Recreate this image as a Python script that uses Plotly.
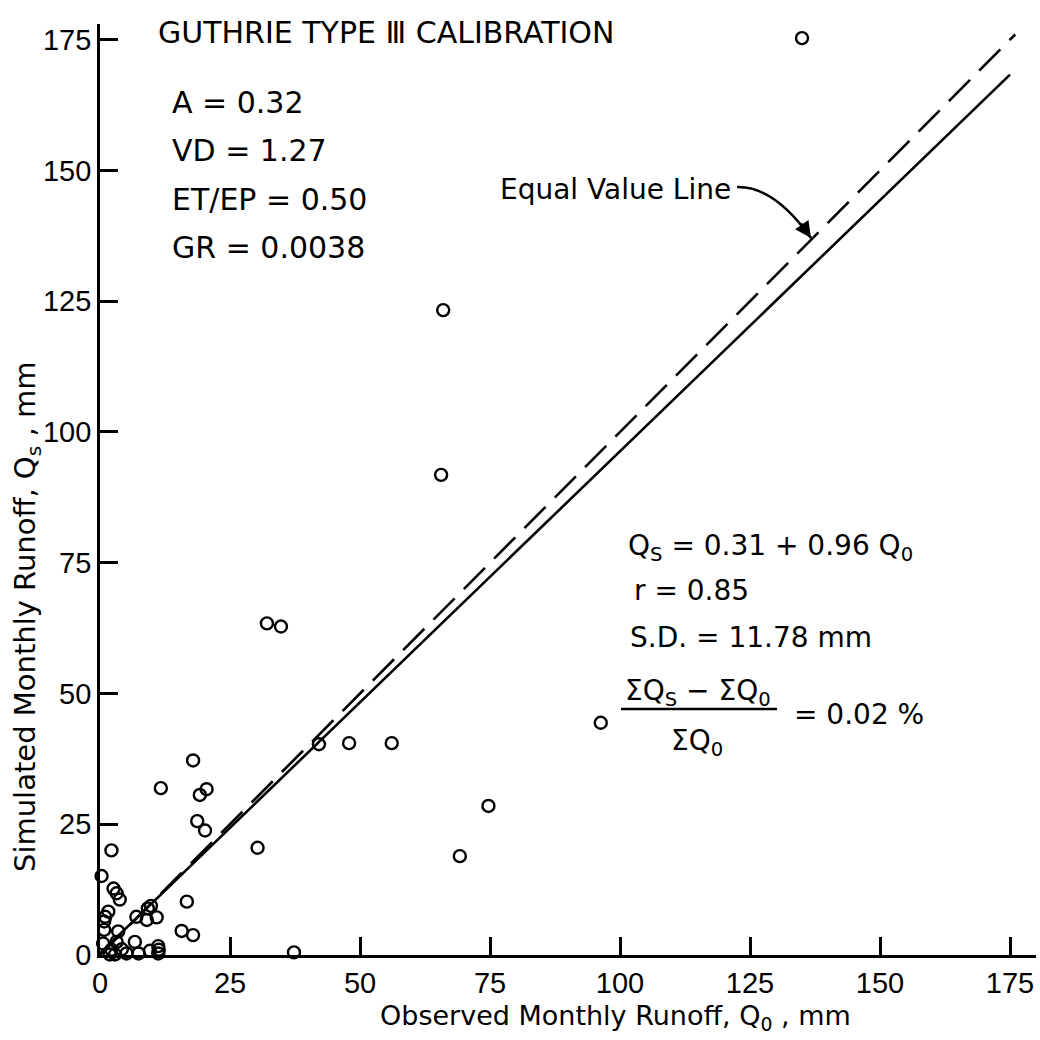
import plotly.graph_objects as go

# Observed vs simulated monthly runoff (mm)
observed = [135.0, 66.0, 65.6, 32.1, 34.8, 96.3, 42.1, 47.9, 56.1, 74.7,
            69.2, 30.3, 37.3, 17.9, 11.7, 19.2, 20.5, 18.7, 20.2, 2.2,
            0.3, 2.6, 3.2, 3.8, 16.7, 1.6, 1.0, 0.8, 9.2, 9.8,
            7.0, 9.0, 10.9, 0.8, 3.5, 15.7, 17.9, 0.6, 3.2, 6.7,
            11.2, 11.3, 2.2, 4.2, 5.1, 7.4, 9.6, 11.2, 1.9, 2.9]
simulated = [175.3, 123.3, 91.8, 63.4, 62.8, 44.4, 40.3, 40.5, 40.5, 28.5,
             18.9, 20.5, 0.5, 37.2, 31.9, 30.6, 31.7, 25.6, 23.8, 20.0,
             15.1, 12.7, 11.8, 10.6, 10.2, 8.3, 7.3, 6.4, 8.9, 9.4,
             7.3, 6.7, 7.2, 4.8, 4.5, 4.6, 3.8, 2.2, 2.5, 2.5,
             1.7, 1.0, 1.0, 1.1, 0.3, 0.3, 0.8, 0.3, 0.1, 0.1]

# Regression fit and equal value line
intercept = 0.31
slope = 0.96
fit_x = [0, 175]
fit_y = [intercept + slope * v for v in fit_x]
equal_x = [0, 176]

tick_vals = [0, 25, 50, 75, 100, 125, 150, 175]
tick_text = ["0", "25", "50", "75", "100", "125", "150", "175"]

params = ["A = 0.32", "VD = 1.27", "ET/EP = 0.50", "GR = 0.0038"]

FONT = "DejaVu Sans, Liberation Sans, sans-serif"
TICK_FONT = "Liberation Sans, Arial, sans-serif"
X_MAX, Y_MAX = 180, 178

# plot area in page pixels
L, R, T, B = 100, 1036, 24, 955


def px(x):
    return (x - L) / (R - L)


def py(y):
    return (B - y) / (B - T)


def dx(x):
    return (x - L) / (R - L) * X_MAX


def dy(y):
    return (B - y) / (B - T) * Y_MAX


fig = go.Figure()

fig.add_trace(go.Scatter(
    x=equal_x, y=equal_x, mode="lines",
    line=dict(color="black", width=2.6, dash="30px,13px"),
    hoverinfo="skip", showlegend=False))

fig.add_trace(go.Scatter(
    x=fit_x, y=fit_y, mode="lines",
    line=dict(color="black", width=2.6),
    hoverinfo="skip", showlegend=False))

fig.add_trace(go.Scatter(
    x=observed, y=simulated, mode="markers",
    marker=dict(symbol="circle-open", size=12, color="black",
                line=dict(width=2.4, color="black")),
    cliponaxis=False, showlegend=False))


def label(text, x, y, size=30, anchor="left", angle=0):
    fig.add_annotation(text=text, xref="paper", yref="paper",
                       x=px(x), y=py(y), xanchor=anchor, yanchor="middle",
                       showarrow=False, textangle=angle,
                       font=dict(family=FONT, size=size, color="black"))


label("GUTHRIE TYPE Ⅲ CALIBRATION", 156, 33, size=30)
for i, p in enumerate(params):
    label(p, 170, 102 + i * 48.5, size=30)

label("Equal Value Line", 733, 189, size=28, anchor="right")

label("Q<sub>S</sub> = 0.31 + 0.96 Q<sub>0</sub>", 626, 547, size=28)
label("r = 0.85", 632, 590, size=28)
label("S.D. = 11.78 mm", 628, 637, size=28)
label("ΣQ<sub>S</sub> − ΣQ<sub>0</sub>", 698, 692, size=28, anchor="center")
label("ΣQ<sub>0</sub>", 697, 742, size=28, anchor="center")
label("= 0.02 %", 792, 714, size=28)

label("Simulated Monthly Runoff, Q<sub>s</sub> , mm", 27, 617, size=29,
      anchor="center", angle=-90)
label("Observed Monthly Runoff, Q<sub>0</sub> , mm", 615, 1017, size=27,
      anchor="center")

# fraction bar
fig.add_shape(type="line", xref="paper", yref="paper",
              x0=px(621), x1=px(777), y0=py(709), y1=py(709),
              line=dict(color="black", width=2.5))

# curved pointer from the label to the equal value line
sx, sy = dx(737), dy(187)
cx, cy = dx(774), dy(186)
ex, ey = dx(811), dy(238)
fig.add_shape(type="path", xref="x", yref="y",
              path=f"M {sx},{sy} Q {cx},{cy} {ex},{ey}",
              line=dict(color="black", width=2.5))
fig.add_annotation(x=ex, y=ey, xref="x", yref="y", text="",
                   showarrow=True, arrowhead=2, arrowsize=1.3,
                   arrowwidth=2.5, arrowcolor="black", ax=-11, ay=-16)

axis_common = dict(
    showline=True, linecolor="black", linewidth=2.8,
    ticks="inside", ticklen=18, tickwidth=2.6, tickcolor="black",
    showgrid=False, zeroline=False,
    tickvals=tick_vals, ticktext=tick_text,
    tickfont=dict(family=TICK_FONT, size=29, color="black"),
)

fig.update_xaxes(range=[0, X_MAX], **axis_common)
fig.update_yaxes(range=[0, Y_MAX], **axis_common)

fig.update_layout(
    width=1040, height=1040,
    margin=dict(l=L, r=1040 - R, t=T, b=1040 - B),
    paper_bgcolor="white", plot_bgcolor="white",
    font=dict(family=FONT, color="black"),
    showlegend=False,
)

fig.write_html("out.html")
